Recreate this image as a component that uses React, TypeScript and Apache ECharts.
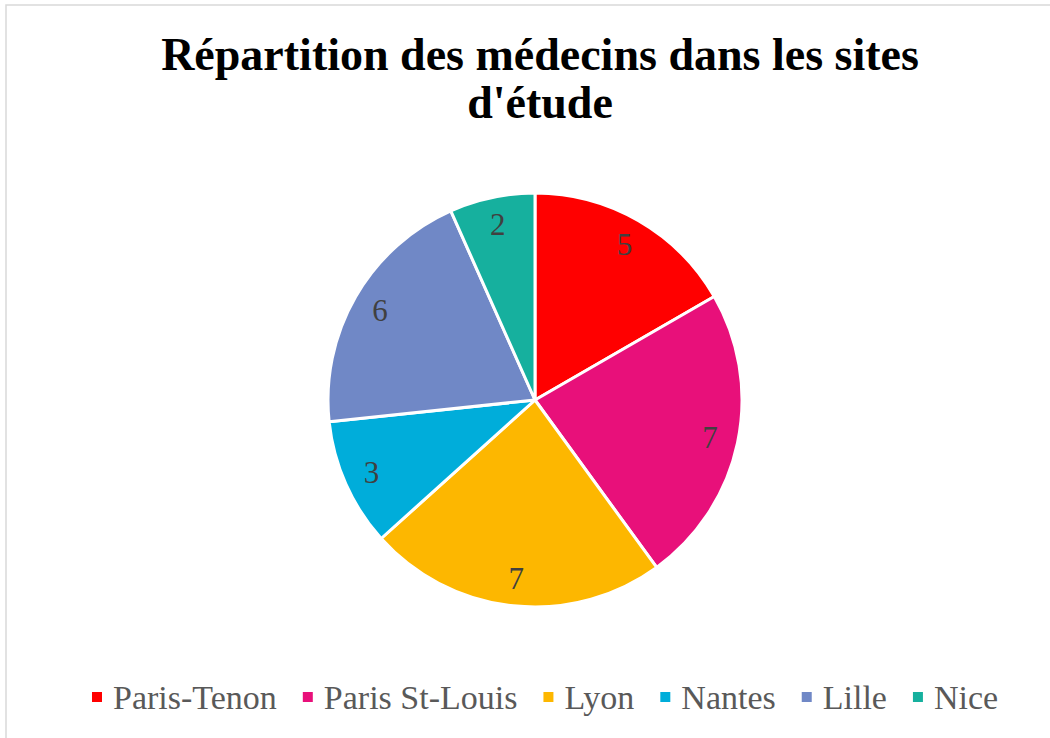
import React, { useEffect, useRef } from "react";
import * as echarts from "echarts";

const titleText = "Répartition des médecins dans les sites\nd'étude";
const sites = ["Paris-Tenon", "Paris St-Louis", "Lyon", "Nantes", "Lille", "Nice"];
const counts = [5, 7, 7, 3, 6, 2];
const colors = ["#FF0000", "#E8107A", "#FDB700", "#00ADDA", "#7088C6", "#16B09E"];

export default function App() {
  const ref = useRef<HTMLDivElement>(null);
  useEffect(() => {
    document.body.style.margin = "0";
    const chart = echarts.init(ref.current!, null, { renderer: "svg" });
    const data = sites.map((name, i) => ({
      name,
      value: counts[i],
      itemStyle: { color: colors[i] },
    }));
    chart.setOption({
      animation: false,
      backgroundColor: "#ffffff",
      graphic: [
        {
          type: "rect",
          shape: { x: 6, y: 5, width: 1100, height: 800 },
          style: { fill: "none", stroke: "#D9D9D9", lineWidth: 1.5 },
          silent: true,
        },
      ],
      title: {
        text: titleText,
        left: 535,
        textAlign: "center",
        top: 25,
        textStyle: {
          fontFamily: "Liberation Serif",
          fontWeight: "bold",
          fontSize: 46,
          lineHeight: 48,
          color: "#000000",
        },
      },
      legend: {
        data: sites,
        bottom: 19,
        left: 85,
        icon: "rect",
        itemWidth: 12,
        itemHeight: 12,
        itemGap: 24,
        textStyle: {
          fontFamily: "Liberation Serif",
          fontSize: 34,
          color: "#595959",
          padding: [0, 0, 0, 5],
        },
      },
      series: [
        {
          type: "pie",
          center: [535, 400],
          radius: [0, 207],
          startAngle: 90,
          clockwise: true,
          data,
          itemStyle: { borderColor: "#ffffff", borderWidth: 3 },
          label: { show: false },
          labelLine: { show: false },
          emphasis: { disabled: true },
        },
        {
          type: "pie",
          center: [535, 400],
          radius: [0, 352],
          startAngle: 90,
          clockwise: true,
          silent: true,
          data: sites.map((name, i) => ({
            name,
            value: counts[i],
            itemStyle: { color: "rgba(0,0,0,0)" },
          })),
          itemStyle: { borderWidth: 0 },
          label: {
            show: true,
            position: "inside",
            formatter: "{c}",
            fontFamily: "Liberation Serif",
            fontSize: 31,
            color: "#404040",
          },
          labelLine: { show: false },
          emphasis: { disabled: true },
        },
      ],
    });
    return () => chart.dispose();
  }, []);
  return <div ref={ref} style={{ width: 1050, height: 738 }} />;
}
